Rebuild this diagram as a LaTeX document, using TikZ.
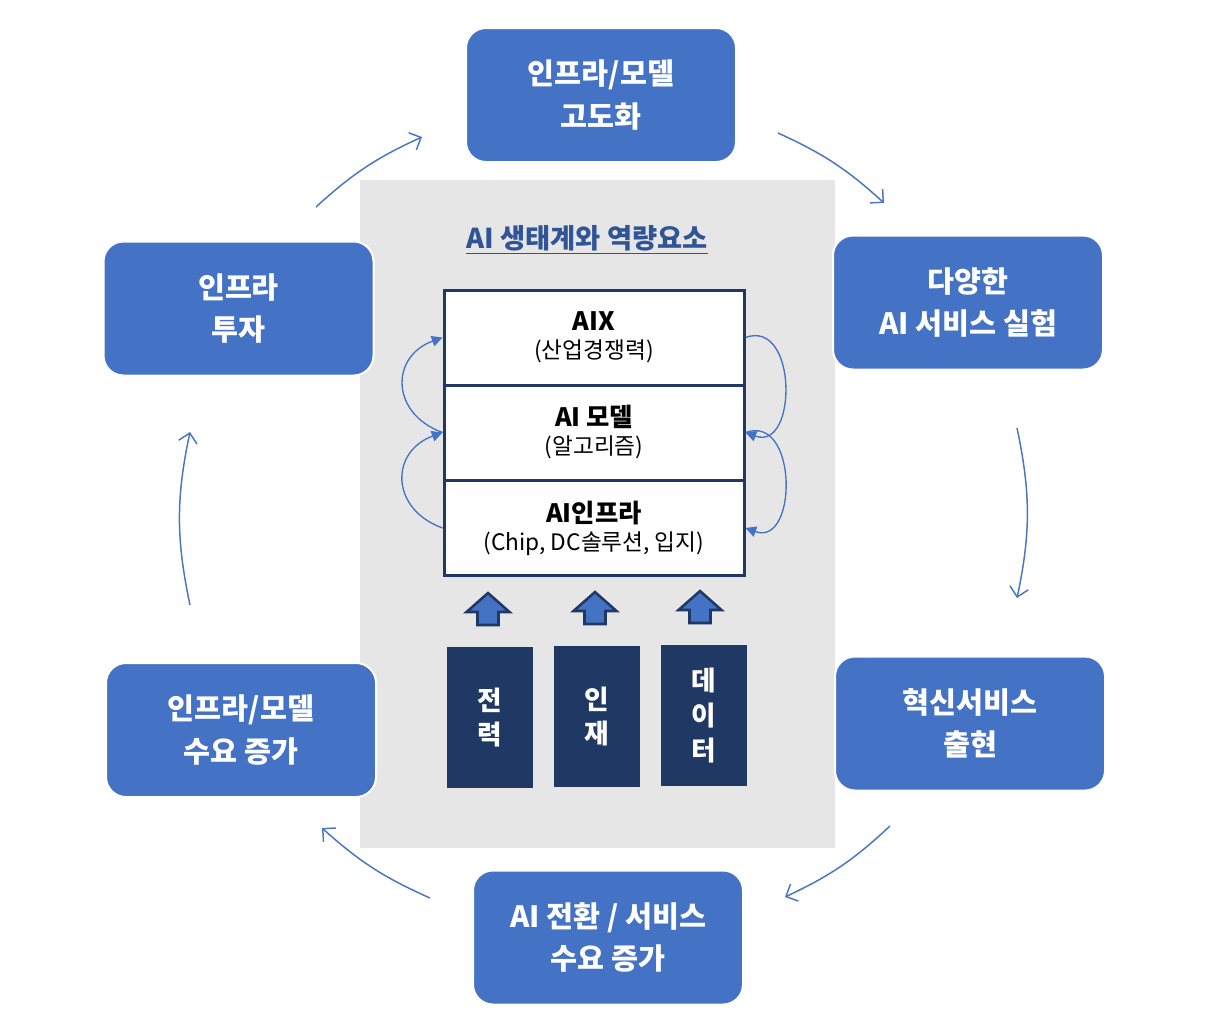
\documentclass[tikz,border=0pt]{standalone}
\usepackage{fontspec}
\newfontfamily\kr{Noto Sans CJK KR}
\usetikzlibrary{arrows.meta}
\definecolor{boxblue}{HTML}{4472C4}
\definecolor{navy}{HTML}{1F3864}
\definecolor{panelgray}{HTML}{E7E6E6}
\definecolor{titleblue}{HTML}{2F5597}
\definecolor{arrowblue}{HTML}{4A75C0}
\begin{document}
\begin{tikzpicture}[x=0.75pt,y=-0.75pt,
  cyclebox/.style={rectangle, rounded corners=15pt, fill=boxblue, draw=white, line width=1.5pt,
    minimum width=202.5pt, minimum height=100.5pt, text=white, align=center,
    font={\kr\bfseries\fontsize{22}{32}\selectfont}},
  layerbox/.style={rectangle, fill=white, draw=navy, line width=2.25pt,
    minimum width=225pt, minimum height=71.25pt, align=center,
    font={\kr\fontsize{17}{21}\selectfont}},
  layertitle/.style={font={\kr\bfseries\fontsize{19}{21}\selectfont}},
  resbox/.style={rectangle, fill=navy, minimum width=64.5pt, minimum height=105.75pt,
    text=white, align=center, font={\kr\bfseries\fontsize{20}{26}\selectfont}},
  cyclearrow/.style={draw=arrowblue, line width=1.1pt, -{Straight Barb[length=7pt,width=14pt]}},
  looparrow/.style={draw=boxblue, line width=1pt, -{Triangle[length=8pt,width=8pt]}},
  uparrow/.pic={\draw[fill=boxblue, draw=navy, line width=1.9pt, line join=miter]
     (0,-16) -- (21.5,3) -- (10.5,3) -- (10.5,16) -- (-10.5,16) -- (-10.5,3) -- (-21.5,3) -- cycle;}
]
\path[use as bounding box, fill=white] (0,0) rectangle (1208,1032);

% central panel
\fill[panelgray] (360,180) rectangle (835,848);
\node[font={\kr\bfseries\fontsize{20.5}{24}\selectfont}, text=titleblue] (title) at (587,240) {\underline{AI 생태계와 역량요소}};

% layers
\node[layerbox] (aix) at (594,337.5) {{\bfseries\fontsize{19}{21}\selectfont AIX}\\(산업경쟁력)};
\node[layerbox] (model) at (594,432.5) {{\bfseries\fontsize{19}{21}\selectfont AI 모델}\\(알고리즘)};
\node[layerbox] (infra) at (594,528) {{\bfseries\fontsize{19}{21}\selectfont AI인프라}\\(Chip, DC솔루션, 입지)};

% loop arrows
\draw[looparrow] (infra.west) to[out=160,in=200,looseness=1.5] (model.west);
\draw[looparrow] (model.west) to[out=160,in=200,looseness=1.5] (aix.west);
\draw[looparrow] (aix.east) to[out=20,in=-20,looseness=1.5] (model.east);
\draw[looparrow] (model.east) to[out=20,in=-20,looseness=1.5] (infra.east);

% resources
\node[resbox] (power) at (490,717.5) {전\\력};
\node[resbox] (talent) at (596.5,716.5) {인\\재};
\node[resbox] (data) at (703.5,715.5) {데\\이\\터};
\pic at (488,609) {uparrow};
\pic at (595,608) {uparrow};
\pic at (700,607) {uparrow};

% cycle boxes
\node[cyclebox] (top) at (601,95) {인프라/모델\\고도화};
\node[cyclebox] (rtop) at (968,302.5) {다양한\\AI 서비스 실험};
\node[cyclebox] (rbot) at (970,723.5) {혁신서비스\\출현};
\node[cyclebox] (bot) at (608,937.5) {AI 전환 / 서비스\\수요 증가};
\node[cyclebox] (lbot) at (241,730) {인프라/모델\\수요 증가};
\node[cyclebox] (left) at (238.5,308.5) {인프라\\투자};

% cycle arrows
\coordinate (a1s) at (316,207); \coordinate (a1e) at (422,137);
\coordinate (a2s) at (778,133); \coordinate (a2e) at (884,203);
\coordinate (a3s) at (1017,428); \coordinate (a3e) at (1017,598);
\coordinate (a4s) at (890,826); \coordinate (a4e) at (785,897);
\coordinate (a5s) at (430,898); \coordinate (a5e) at (322,828);
\coordinate (a6s) at (190,605); \coordinate (a6e) at (190,432);
\draw[cyclearrow] (a1s) to[bend left=9] (a1e);
\draw[cyclearrow] (a2s) to[bend left=9] (a2e);
\draw[cyclearrow] (a3s) to[bend left=12] (a3e);
\draw[cyclearrow] (a4s) to[bend left=9] (a4e);
\draw[cyclearrow] (a5s) to[bend left=9] (a5e);
\draw[cyclearrow] (a6s) to[bend left=12] (a6e);
\end{tikzpicture}
\end{document}
